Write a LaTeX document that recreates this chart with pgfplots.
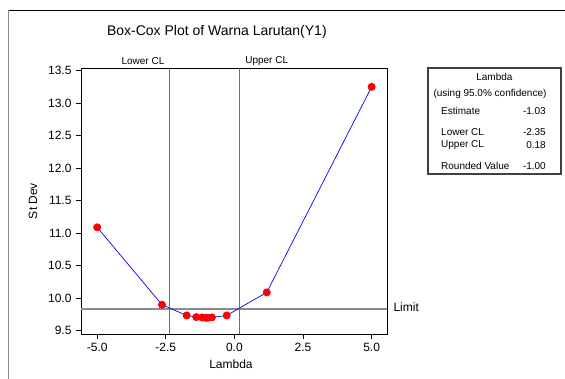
\documentclass[border=0pt]{standalone}
\usepackage{pgfplots}
\pgfplotsset{compat=1.18}
\usepackage{fontspec}
\setmainfont{Liberation Sans}

\definecolor{cllinecol}{HTML}{6E6E6E}
\definecolor{limitcol}{HTML}{8C8C8C}
\definecolor{framecol}{HTML}{8A8A8A}

% Box-Cox search points (lambda, standard deviation)
\pgfplotstableread{
lambda  sd
-5.00   11.09
-2.64   9.90
-1.74   9.735
-1.39   9.71
-1.18   9.705
-1.05   9.70
-0.97   9.70
-0.82   9.705
-0.28   9.735
1.18    10.09
5.00    13.25
}\boxcox

\newcommand{\lowerCL}{-2.35}
\newcommand{\upperCL}{0.18}
\newcommand{\limitSD}{9.838}

\begin{document}
\begin{tikzpicture}[x=1pt,y=1pt]
\useasboundingbox (0,0) rectangle (565,379);

% page frame
\draw[framecol, line width=1.2pt] (8.5,0) -- (8.5,369);
\draw[black, line width=0.8pt] (8.5,369) -- (565,369);

\begin{axis}[
  at={(81pt,45pt)}, anchor=south west,
  width=306pt, height=266pt, scale only axis,
  xmin=-5.59, xmax=5.56, ymin=9.45, ymax=13.54,
  axis line style={black, line width=0.8pt},
  xtick={-5,-2.5,0,2.5,5},
  xticklabels={-5.0,-2.5,0.0,2.5,5.0},
  ytick={9.5,10,10.5,11,11.5,12,12.5,13,13.5},
  yticklabels={9.5,10.0,10.5,11.0,11.5,12.0,12.5,13.0,13.5},
  tick align=outside, xtick pos=bottom, ytick pos=left,
  major tick length=5pt,
  tick style={black, line width=0.7pt},
  ticklabel style={font=\fontsize{12}{14}\selectfont},
  xticklabel style={yshift=-1pt},
  yticklabel style={xshift=-1pt},
  title={Box-Cox Plot of Warna Larutan(Y1)},
  title style={at={(axis description cs:0.444,1.115)}, anchor=center,
               font=\fontsize{14}{16}\selectfont},
  xlabel={Lambda},
  xlabel style={at={(axis description cs:0.49,-0.114)}, anchor=center,
                font=\fontsize{12}{14}\selectfont},
  ylabel={St Dev},
  ylabel style={at={(axis description cs:-0.157,0.5)}, anchor=center,
                rotate=0, font=\fontsize{12}{14}\selectfont},
  clip=false,
]
% confidence limits and limit line
\draw[cllinecol, line width=1pt] (axis cs:\lowerCL,9.45) -- (axis cs:\lowerCL,13.54);
\draw[cllinecol, line width=1pt] (axis cs:\upperCL,9.45) -- (axis cs:\upperCL,13.54);
\draw[limitcol, line width=1.5pt] (axis cs:-5.59,\limitSD) -- (axis cs:5.56,\limitSD);

\node[font=\fontsize{10}{12}\selectfont, anchor=center]
  at (axis description cs:0.2026,1.0275) {Lower CL};
\node[font=\fontsize{10}{12}\selectfont, anchor=center]
  at (axis description cs:0.607,1.0275) {Upper CL};
\node[font=\fontsize{12}{14}\selectfont, anchor=west]
  at (axis cs:5.56,\limitSD) [xshift=3pt, yshift=2pt] {Limit};

\addplot[blue, line width=0.7pt, mark=*, mark size=3.6pt,
  mark options={draw=red, fill=red}] table[x=lambda, y=sd] {\boxcox};
\end{axis}

% lambda summary box
\draw[black!75, line width=1.1pt] (428,205) rectangle (561,311);
\begin{scope}[every node/.style={font=\fontsize{10}{12}\selectfont, inner sep=0pt}]
\node[anchor=center] at (494.4,302.3) {Lambda};
\node[anchor=center] at (490,285.3) {(using 95.0\% confidence)};
\node[anchor=west] at (441,268.3) {Estimate};
\node[anchor=east] at (546,268.3) {-1.03};
\node[anchor=west] at (441,247.3) {Lower CL};
\node[anchor=east] at (546,247.3) {-2.35};
\node[anchor=west] at (441,234.3) {Upper CL};
\node[anchor=east] at (546,234.3) {0.18};
\node[anchor=west] at (441,213.3) {Rounded Value};
\node[anchor=east] at (546,213.3) {-1.00};
\end{scope}
\end{tikzpicture}
\end{document}
